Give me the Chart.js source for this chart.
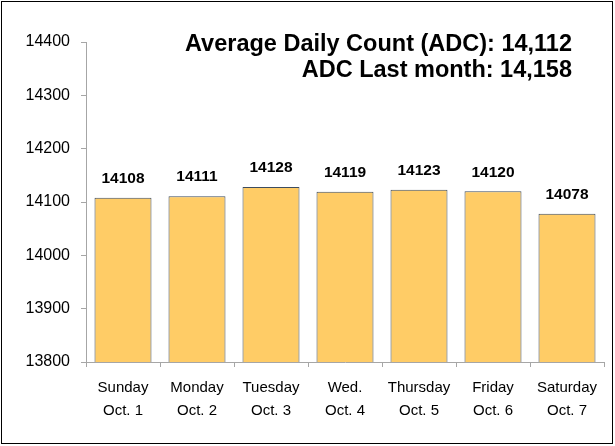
<!DOCTYPE html>
<html>
<head>
<meta charset="utf-8">
<script src="https://cdn.jsdelivr.net/npm/chart.js"></script>
<style>
  html, body { margin: 0; padding: 0; background: #fff; }
  #wrap { position: relative; width: 615px; height: 446px; }
  #frame { position: absolute; left: 1px; top: 1px; width: 610px; height: 441px; border: 1px solid #000; pointer-events: none; }
</style>
</head>
<body>
<div id="wrap">
  <canvas id="adcChart" width="615" height="446"></canvas>
  <div id="frame"></div>
</div>
<script>
// 数据
const days = [
    ['Sunday', 'Oct. 1'],
    ['Monday', 'Oct. 2'],
    ['Tuesday', 'Oct. 3'],
    ['Wed.', 'Oct. 4'],
    ['Thursday', 'Oct. 5'],
    ['Friday', 'Oct. 6'],
    ['Saturday', 'Oct. 7']
];
const dailyCounts = [14108, 14111, 14128, 14119, 14123, 14120, 14078];
const headerLines = ['Average Daily Count (ADC): 14,112', 'ADC Last month: 14,158'];
const yMin = 13800;
const yMax = 14400;
const yStep = 100;

// 柱顶数值 + 右上角说明文字
const labelPlugin = {
    id: 'labelPlugin',
    afterDatasetsDraw(chart) {
        const ctx = chart.ctx;
        const meta = chart.getDatasetMeta(0);
        ctx.save();
        ctx.fillStyle = '#000';
        ctx.font = 'bold 15.5px "Liberation Sans", Arial, sans-serif';
        ctx.textAlign = 'center';
        ctx.textBaseline = 'middle';
        meta.data.forEach((bar, i) => {
            ctx.fillText(String(dailyCounts[i]), bar.x, bar.y - 19);
        });

        ctx.font = 'bold 23.5px "Liberation Sans", Arial, sans-serif';
        ctx.textAlign = 'right';
        ctx.fillText(headerLines[0], 572, 45);
        ctx.fillText(headerLines[1], 572, 71);
        ctx.restore();
    }
};

function initChart() {
    const ctx = document.getElementById('adcChart');
    new Chart(ctx, {
        type: 'bar',
        data: {
            labels: days,
            datasets: [{
                data: dailyCounts,
                backgroundColor: '#FFCC66',
                borderColor: '#3E4C5E',
                borderWidth: 1,
                borderSkipped: false,
                barPercentage: 0.77,
                categoryPercentage: 1.0
            }]
        },
        options: {
            responsive: false,
            animation: false,
            layout: { padding: { left: 0, right: 11, top: 42, bottom: 0 } },
            plugins: {
                legend: { display: false },
                tooltip: { enabled: false }
            },
            scales: {
                x: {
                    grid: {
                        display: true,
                        drawOnChartArea: false,
                        offset: true,
                        tickLength: 5,
                        color: '#A6A6A6'
                    },
                    border: { color: '#A6A6A6', width: 1 },
                    ticks: {
                        color: '#000',
                        padding: 9,
                        maxRotation: 0,
                        font: { family: '"Liberation Sans", Arial, sans-serif', size: 15, lineHeight: 1.55 }
                    },
                    afterFit(scale) { scale.height = 84; }
                },
                y: {
                    min: yMin,
                    max: yMax,
                    grid: {
                        display: true,
                        drawOnChartArea: false,
                        tickLength: 5,
                        color: '#A6A6A6'
                    },
                    border: { color: '#A6A6A6', width: 1 },
                    ticks: {
                        stepSize: yStep,
                        color: '#000',
                        padding: 11,
                        font: { family: '"Liberation Sans", Arial, sans-serif', size: 16 },
                        callback: (value) => String(value)
                    },
                    afterFit(scale) { scale.width = 86; }
                }
            }
        },
        plugins: [labelPlugin]
    });
}

initChart();
</script>
</body>
</html>
